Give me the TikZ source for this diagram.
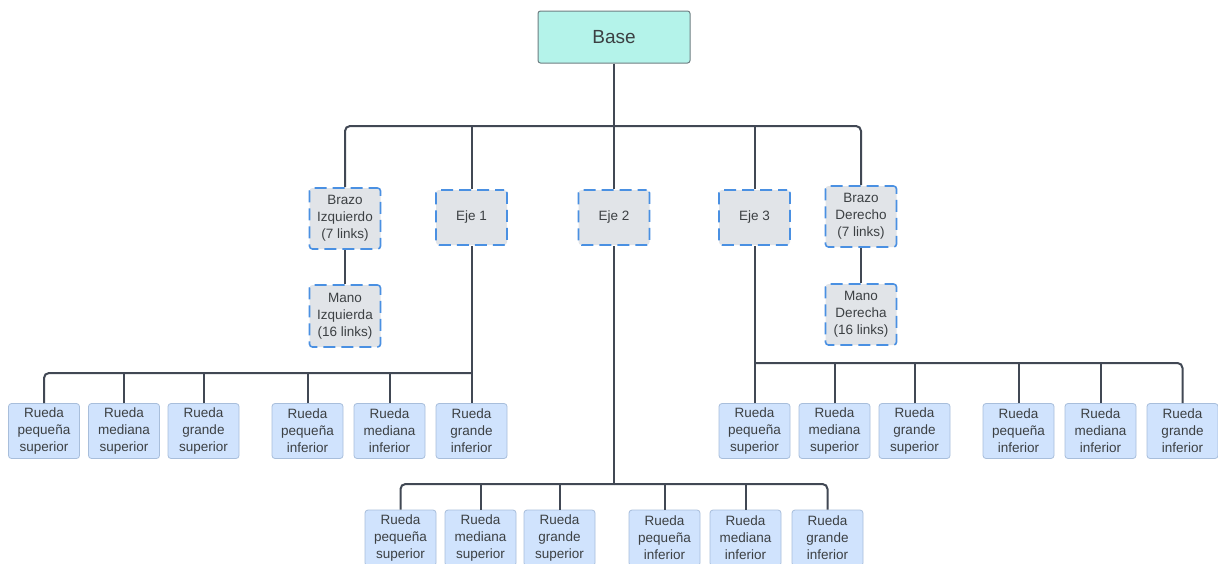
\documentclass[tikz,border=0pt]{standalone}
\usepackage{fontspec}
\setmainfont{Liberation Sans}
\definecolor{basefill}{HTML}{B4F3EA}
\definecolor{baseline}{HTML}{6E7E82}
\definecolor{partfill}{HTML}{E1E4E8}
\definecolor{partline}{HTML}{4A90E2}
\definecolor{wheelfill}{HTML}{D0E3FD}
\definecolor{wheelline}{HTML}{A8BEDB}
\definecolor{wire}{HTML}{414854}
\definecolor{ink}{HTML}{3C4043}
\begin{document}
\begin{tikzpicture}[x=1pt,y=-1pt,
  every node/.style={text=ink, align=center, inner sep=0pt},
  basebox/.style={draw=baseline, fill=basefill, line width=1pt, rounded corners=2.5pt,
    minimum width=152pt, minimum height=52pt, font=\fontsize{19}{23}\selectfont},
  partbox/.style={draw=partline, fill=partfill, line width=1.6pt, rounded corners=3pt,
    dash pattern=on 12pt off 6pt, dash phase=3pt, minimum width=71pt, font=\fontsize{13.5}{17}\selectfont},
  wheelbox/.style={draw=wheelline, fill=wheelfill, line width=0.8pt, rounded corners=3pt,
    minimum width=71pt, minimum height=55pt, font=\fontsize{13.5}{17}\selectfont},
  wire/.style={draw=wire, line width=2pt, rounded corners=5pt}]
\useasboundingbox (0,0) rectangle (1218,563);
\clip (0,0) rectangle (1218,563);
\fill[white] (0,0) rectangle (1218,563);

% top level
\node[basebox] (base) at (614,37) {Base};

% second level
\node[partbox, minimum height=61pt] (bi) at (345,218.5) {Brazo\\Izquierdo\\(7 links)};
\node[partbox, minimum height=62pt] (mi) at (345,316) {Mano\\Izquierda\\(16 links)};
\node[partbox, minimum height=55pt] (e1) at (471.5,217.5) {Eje 1};
\node[partbox, minimum height=55pt] (e2) at (614,217.5) {Eje 2};
\node[partbox, minimum height=55pt] (e3) at (754.5,217.5) {Eje 3};
\node[partbox, minimum height=61pt] (bd) at (861,216.5) {Brazo\\Derecho\\(7 links)};
\node[partbox, minimum height=61pt] (md) at (861,314.5) {Mano\\Derecha\\(16 links)};

% wheels of Eje 1
\node[wheelbox] (l1) at (44,431)  {Rueda\\pequeña\\superior};
\node[wheelbox] (l2) at (124,431) {Rueda\\mediana\\superior};
\node[wheelbox] (l3) at (203.5,431) {Rueda\\grande\\superior};
\node[wheelbox] (l4) at (307.5,431) {Rueda\\pequeña\\inferior};
\node[wheelbox] (l5) at (389.5,431) {Rueda\\mediana\\inferior};
\node[wheelbox] (l6) at (471.5,431) {Rueda\\grande\\inferior};

% wheels of Eje 3
\node[wheelbox] (r1) at (754.5,431) {Rueda\\pequeña\\superior};
\node[wheelbox] (r2) at (834.5,431) {Rueda\\mediana\\superior};
\node[wheelbox] (r3) at (914.5,431) {Rueda\\grande\\superior};
\node[wheelbox] (r4) at (1018.5,431) {Rueda\\pequeña\\inferior};
\node[wheelbox] (r5) at (1100.5,431) {Rueda\\mediana\\inferior};
\node[wheelbox] (r6) at (1182.5,431) {Rueda\\grande\\inferior};

% wheels of Eje 2
\node[wheelbox, minimum height=56pt] (b1) at (400.5,538) {Rueda\\pequeña\\superior};
\node[wheelbox, minimum height=56pt] (b2) at (480.5,538) {Rueda\\mediana\\superior};
\node[wheelbox, minimum height=56pt] (b3) at (559.5,538) {Rueda\\grande\\superior};
\node[wheelbox, minimum height=56pt] (b4) at (664.5,538) {Rueda\\pequeña\\inferior};
\node[wheelbox, minimum height=56pt] (b5) at (745.5,538) {Rueda\\mediana\\inferior};
\node[wheelbox, minimum height=56pt] (b6) at (827.5,538) {Rueda\\grande\\inferior};

% bus junctions
\coordinate (jt) at (614,126);
\coordinate (jl) at (471.5,373);
\coordinate (jr) at (754.5,363);
\coordinate (jb) at (614,484);

% from Base
\draw[wire] (bi.north) |- (jt);
\draw[wire] (bd.north) |- (jt);
\draw[wire] (base.south) -- (e2.north);
\draw[wire] (e1.north) -- (e1.north |- jt);
\draw[wire] (e3.north) -- (e3.north |- jt);
\draw[wire] (bi.south) -- (mi.north);
\draw[wire] (bd.south) -- (md.north);

% Eje 1 branch
\draw[wire] (e1.south) -- (l6.north);
\draw[wire] (l1.north) |- (jl);
\foreach \n in {l2,l3,l4,l5} \draw[wire] (\n.north) -- (\n.north |- jl);

% Eje 3 branch
\draw[wire] (e3.south) -- (r1.north);
\draw[wire] (r6.north) |- (jr);
\foreach \n in {r2,r3,r4,r5} \draw[wire] (\n.north) -- (\n.north |- jr);

% Eje 2 branch
\draw[wire] (e2.south) -- (jb);
\draw[wire] (b1.north) |- (jb);
\draw[wire] (b6.north) |- (jb);
\foreach \n in {b2,b3,b4,b5} \draw[wire] (\n.north) -- (\n.north |- jb);
\end{tikzpicture}
\end{document}
